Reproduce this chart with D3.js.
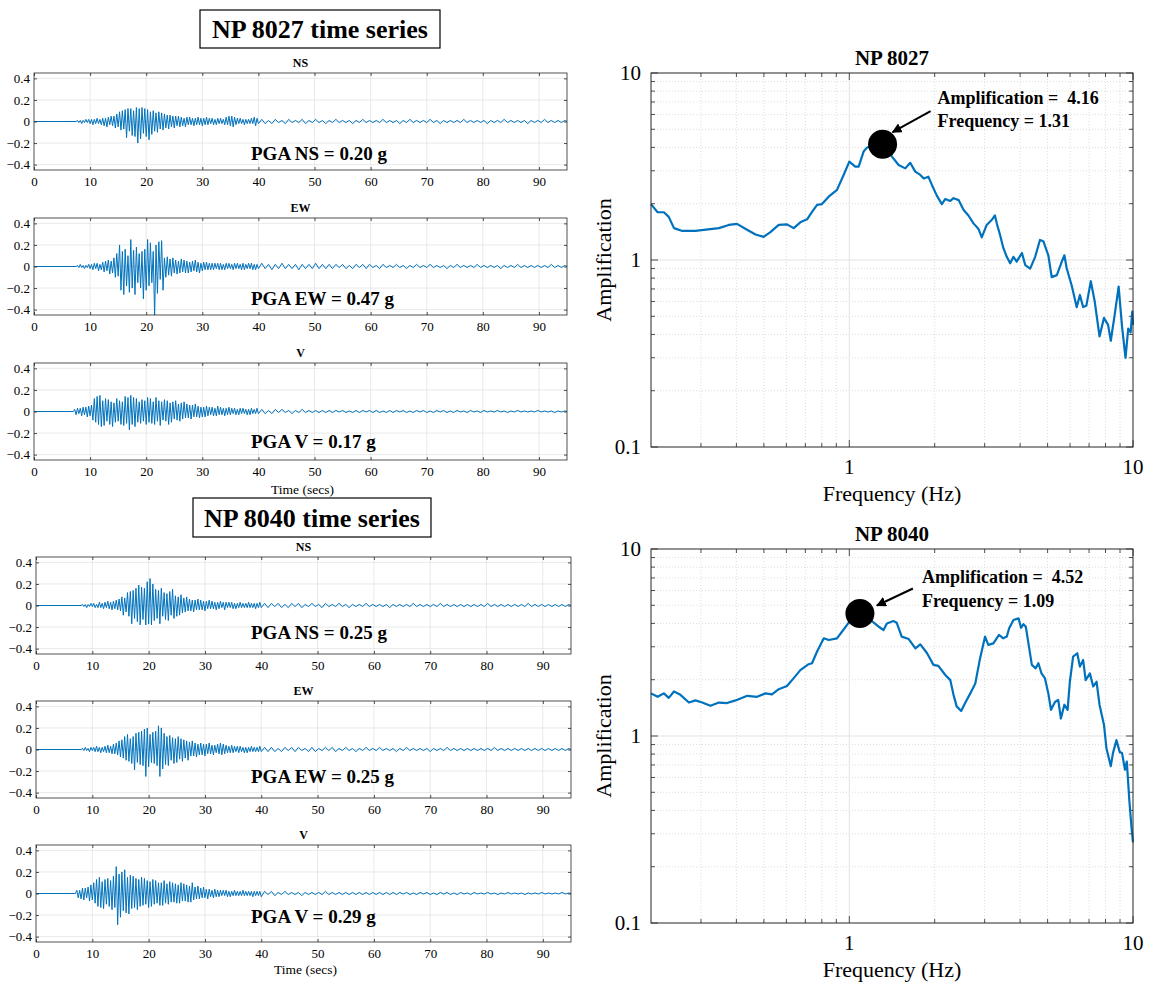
<!DOCTYPE html>
<html>
<head>
<meta charset="utf-8">
<script src="https://cdn.jsdelivr.net/npm/d3@7"></script>
<style>
  body { margin: 0; background: #fff; }
  svg { display: block; }
  text { font-family: "Liberation Serif", "Times New Roman", serif; fill: #000; }
</style>
</head>
<body>
<svg id="fig" width="1150" height="984"></svg>
<script>
// ---------------- data ----------------
const stationNames = ["NP 8027", "NP 8040"];
const components = ["NS", "EW", "V"];
const pgaValues = [[0.20, 0.47, 0.17], [0.25, 0.25, 0.29]];   // g
const onsetTimes = [[7.5, 7.5, 7.0], [8.0, 8.0, 7.0]];          // s
const strongStep = 0.25;  // s between successive peaks, strong-motion part
const codaStep = 0.6;     // s between successive peaks, coda part
const timeTicks = [0, 10, 20, 30, 40, 50, 60, 70, 80, 90];
const accTicks = [-0.4, -0.2, 0, 0.2, 0.4];

// accelerogram peaks, hundredths of g
const ns8027Strong = [1,-1,1,-2,1,-1,2,-1,2,-2, 2,-3,2,-2,3,-2,2,-3, 3,-4,3,-5,4,-3,5,-4,
  5,-6,7,-5, 9,-8,10,-7, 11,-15,12,-9, 12,-13,10,-14, 13,-20,12,-16, 13,-11,12,-14, 11,-17,9,-12,
  10,-9,8,-10, 9,-7,8,-8, 7,-6,6,-7, 6,-5,5,-6, 5,-4,5,-5, 4,-4,3,-5, 4,-3,4,-3, 3,-4,3,-3,
  4,-3,3,-4, 3,-3,4,-3, 3,-2,3,-3, 2,-3,3,-2, 3,-2,2,-3, 4,-3,5,-4, 5,-5,4,-3, 3,-2,3,-2,
  2,-3,2,-2, 2,-2,3,-2, 4,-4,3,-2];
const ns8027Coda = [2,-2,1,-2,2,-1,1,-2,2,-1,1,-1,2,-2,1,-1,2,-1,1,-2,
  1,-1,2,-1,1,-1,1,-2,1,-1,2,-1,1,-1,1,-1,2,-1,1,-1,
  1,-2,1,-1,2,-1,1,-1,1,-1,2,-1,1,-2,1,-1,1,-1,1,-1,
  2,-1,1,-1,1,-1,1,-2,1,-1,1,-1,2,-1,1,-1,1,-1,1,-2,
  1,-1,1,-1,2,-1,1,-1,1,-1,1,-1];

const ew8027Strong = [1,-1,2,-1,1,-2,1,-1,2,-2, 2,-3,3,-2,3,-4,2,-3, 4,-5,5,-4,6,-7,5,-6,
  8,-10,12,-9, 20,-22,14,-26, 16,-18,10,-24, 25,-20,15,-26, 18,-15,12,-20, 14,-30,16,-22,
  25,-18,22,-15, 14,-47,20,-25, 23,-12,24,-22, 8,-10,9,-8, 7,-9,8,-6, 6,-7,5,-6, 7,-5,6,-6,
  5,-6,4,-5, 5,-4,6,-5, 4,-6,3,-4, 4,-3,4,-3, 3,-3,3,-3, 3,-2,3,-3, 3,-3,2,-3, 3,-2,3,-2,
  2,-3,3,-2, 3,-2,2,-3, 3,-3,2,-2, 3,-2,3,-3, 2,-3,2,-2];
const ew8027Coda = [3,-2,2,-3,2,-2,3,-2,2,-2,2,-3,2,-2,2,-2,3,-2,2,-2,
  2,-2,2,-1,2,-2,1,-2,2,-1,2,-2,2,-1,1,-2,2,-1,1,-1,
  2,-1,1,-2,1,-1,2,-1,1,-1,2,-1,1,-1,1,-2,1,-1,2,-1,
  1,-1,1,-1,2,-1,1,-1,1,-1,1,-2,1,-1,1,-1,2,-1,1,-1,
  1,-1,1,-1,1,-1,2,-1,1,-1,1,-1];

const v8027Strong = [2,-3,3,-2, 3,-4,4,-3, 4,-5,5,-4, 6,-8,12,-10, 14,-12,15,-14, 10,-13,12,-9,
  11,-12,9,-14, 8,-10,12,-9, 10,-12,9,-13, 14,-11,13,-17, 15,-12,13,-14, 12,-10,9,-11,
  11,-9,10,-12, 13,-10,12,-11, 9,-12,13,-9, 10,-13,9,-8, 11,-9,10,-12, 8,-10,9,-7,
  10,-8,7,-9, 8,-7,9,-6, 7,-6,6,-7, 6,-5,7,-5, 5,-6,4,-5, 4,-5,5,-4, 4,-3,4,-4, 3,-4,5,-3,
  4,-3,3,-4, 3,-3,4,-3, 3,-2,3,-3, 2,-3,3,-2, 3,-2,2,-3, 2,-3,3,-2, 2,-2,3,-2];
const v8027Coda = [2,-2,1,-2,2,-1,2,-1,1,-2,1,-1,2,-1,1,-1,1,-1,1,-1,
  1,-1,1,-0.5,1,-1,0.5,-1,1,-1,1,-0.5,1,-1,1,-1,0.5,-1,1,-1,
  1,-0.5,1,-1,0.5,-1,1,-0.5,1,-1,0.5,-1,1,-0.5,1,-1,0.5,-1,1,-0.5,
  0.5,-1,1,-0.5,0.5,-1,1,-0.5,0.5,-0.5,1,-0.5,0.5,-1,0.5,-0.5,1,-0.5,0.5,-0.5,
  0.5,-0.5,1,-0.5,0.5,-0.5,0.5,-1,0.5,-0.5,0.5,-0.5];

const ns8040Strong = [1,-1,1,-2,1,-1,2,-1, 2,-2,1,-2,3,-2,2,-3, 3,-2,4,-3,3,-4,4,-3,
  5,-4,6,-5, 8,-9,7,-6, 12,-10,13,-17, 14,-12,16,-15, 19,-18,17,-13, 16,-18,22,-17,
  25,-18,20,-14, 15,-12,14,-17, 16,-10,12,-13, 11,-14,13,-9, 15,-12,9,-10, 8,-9,10,-7,
  7,-6,8,-5, 6,-5,5,-6, 5,-4,6,-4, 5,-4,4,-5, 4,-3,5,-3, 4,-3,3,-4, 3,-3,4,-2, 3,-4,3,-2,
  3,-2,3,-3, 2,-3,2,-2, 3,-2,2,-2, 2,-2,3,-2, 2,-2,2,-3, 2,-2,3,-2];
const ns8040Coda = [2,-2,2,-1,2,-2,1,-2,2,-1,2,-2,1,-1,2,-1,1,-2,2,-1,
  1,-1,2,-1,1,-2,1,-1,1,-1,2,-1,1,-1,1,-1,1,-2,1,-1,
  1,-1,1,-1,2,-1,1,-1,1,-1,1,-1,2,-1,1,-1,1,-1,1,-1,
  1,-1,1,-1,1,-1,2,-1,1,-1,1,-1,1,-1,1,-1,1,-1,2,-1,
  1,-1,1,-1,1,-1,1,-1,1,-1,1,-1];

const ew8040Strong = [1,-1,2,-1,1,-2,2,-1, 2,-2,3,-2,2,-3,2,-2, 3,-3,4,-3,3,-4,5,-4,
  6,-5,8,-7, 9,-8,12,-10, 14,-11,10,-13, 12,-19,15,-12, 16,-14,17,-15, 19,-25,20,-16,
  14,-12,16,-13, 17,-15,22,-25, 20,-18,15,-14, 12,-15,13,-10, 11,-13,10,-12, 12,-9,10,-11,
  9,-8,8,-10, 7,-6,8,-6, 6,-7,5,-5, 6,-5,5,-6, 5,-4,6,-4, 4,-5,4,-3, 5,-4,6,-5, 5,-4,4,-3,
  3,-3,4,-3, 3,-2,3,-3, 3,-2,2,-3, 2,-3,2,-2, 3,-2,2,-2, 2,-2,3,-2];
const ew8040Coda = [2,-2,2,-2,1,-2,2,-1,2,-2,2,-1,1,-2,2,-2,1,-1,2,-1,
  2,-2,1,-1,2,-1,1,-2,1,-1,2,-1,1,-1,2,-1,1,-1,1,-2,
  1,-1,2,-1,1,-1,1,-1,1,-2,1,-1,1,-1,2,-1,1,-1,1,-1,
  1,-1,1,-1,1,-1,1,-1,2,-1,1,-1,1,-1,1,-1,1,-1,1,-1,
  1,-1,1,-1,1,-1,1,-1,1,-1,1,-1];

const v8040Strong = [3,-4,3,-5, 5,-6,5,-4, 6,-7,8,-6, 10,-9,13,-12, 15,-13,11,-14, 13,-10,14,-12,
  12,-15,16,-13, 25,-29,18,-22, 20,-16,22,-18, 15,-19,17,-14, 16,-13,14,-15, 13,-12,15,-11,
  14,-10,12,-13, 11,-12,13,-10, 12,-9,10,-11, 10,-11,12,-9, 9,-10,11,-8, 10,-8,9,-9,
  8,-9,10,-7, 9,-7,8,-8, 7,-8,10,-6, 6,-5,7,-5, 5,-4,6,-4, 4,-5,4,-3, 3,-4,4,-3, 3,-3,3,-2,
  3,-2,3,-3, 2,-3,2,-2, 3,-2,2,-2, 2,-2,3,-2, 2,-2,2,-2, 2,-3,2,-2, 2,-2,2,-3];
const v8040Coda = [2,-1,2,-2,1,-1,2,-1,1,-1,1,-2,1,-1,1,-1,1,-1,2,-1,
  1,-1,1,-1,1,-1,1,-1,1,-1,1,-1,1,-1,1,-1,1,-1,1,-1,
  1,-0.5,1,-1,0.5,-1,1,-0.5,1,-1,0.5,-1,1,-0.5,1,-1,0.5,-1,1,-0.5,
  0.5,-1,1,-0.5,0.5,-0.5,1,-0.5,0.5,-1,0.5,-0.5,1,-0.5,0.5,-0.5,0.5,-1,0.5,-0.5,
  0.5,-0.5,1,-0.5,0.5,-0.5,0.5,-0.5,1,-0.5,0.5,-0.5];

const strongRecords = [[ns8027Strong, ew8027Strong, v8027Strong], [ns8040Strong, ew8040Strong, v8040Strong]];
const codaRecords = [[ns8027Coda, ew8027Coda, v8027Coda], [ns8040Coda, ew8040Coda, v8040Coda]];

// amplification spectra
const freq8027 = [0.2,0.211,0.222,0.231,0.241,0.258,0.287,0.307,0.347,0.376,0.402,0.43,0.467,0.499,0.527,
  0.564,0.603,0.637,0.672,0.71,0.739,0.77,0.801,0.846,0.905,0.955,1.0,1.05,1.079,1.123,1.154,1.22,1.31,1.37,
  1.414,1.492,1.575,1.64,1.708,1.78,1.83,1.9,1.955,2.035,2.12,2.178,2.27,2.33,2.43,2.53,2.63,2.74,2.85,2.93,
  3.05,3.18,3.26,3.31,3.4,3.49,3.59,3.69,3.79,3.89,4.06,4.17,4.34,4.52,4.7,4.83,5.03,5.17,5.39,5.61,5.73,
  5.84,6.08,6.33,6.5,6.67,6.85,7.1,7.33,7.62,7.9,8.17,8.35,8.62,8.9,9.15,9.41,9.62,9.81,9.94,10.0];
const amp8027 = [1.99,1.80,1.80,1.70,1.48,1.43,1.43,1.45,1.48,1.54,1.56,1.47,1.37,1.33,1.41,
  1.54,1.55,1.48,1.59,1.65,1.81,1.97,1.99,2.18,2.37,2.85,3.36,3.16,3.16,3.80,3.99,4.08,4.16,3.85,
  3.57,3.22,3.09,3.31,2.97,2.85,2.73,2.79,2.52,2.21,1.99,2.12,2.07,2.14,2.09,1.85,1.73,1.57,1.47,1.32,
  1.54,1.64,1.73,1.57,1.36,1.16,1.04,0.96,1.04,0.98,1.09,0.94,0.90,1.04,1.28,1.26,1.06,0.81,0.83,0.98,1.06,
  0.90,0.73,0.56,0.65,0.56,0.57,0.77,0.60,0.39,0.49,0.45,0.37,0.51,0.72,0.44,0.30,0.43,0.41,0.53,0.45];
const freq8040 = [0.2,0.211,0.222,0.231,0.241,0.254,0.272,0.287,0.303,0.324,0.347,0.371,0.397,0.437,0.473,
  0.506,0.534,0.564,0.603,0.637,0.672,0.719,0.739,0.77,0.813,0.846,0.905,0.942,1.0,1.09,1.18,1.27,1.32,1.357,
  1.43,1.47,1.53,1.62,1.71,1.78,1.88,1.98,2.06,2.18,2.27,2.33,2.39,2.48,2.56,2.67,2.78,2.89,3.01,3.09,3.22,
  3.37,3.49,3.59,3.66,3.79,3.95,4.03,4.11,4.19,4.28,4.4,4.54,4.64,4.76,4.89,5.03,5.14,5.31,5.45,5.57,5.73,
  5.88,5.99,6.15,6.36,6.5,6.67,6.81,7.05,7.24,7.44,7.62,7.9,8.06,8.35,8.5,8.74,8.98,9.15,9.37,9.51,9.71,9.87,10.0];
const amp8040 = [1.69,1.62,1.69,1.60,1.73,1.66,1.51,1.55,1.51,1.45,1.51,1.50,1.55,1.64,1.62,
  1.69,1.67,1.78,1.85,2.04,2.25,2.42,2.45,2.83,3.33,3.26,3.33,3.61,4.08,4.52,4.2,3.84,3.69,4.0,
  4.12,4.03,3.40,3.30,2.94,3.09,2.77,2.40,2.37,2.12,1.99,1.66,1.44,1.36,1.50,1.69,1.91,2.60,3.40,3.07,3.13,
  3.47,3.33,3.40,3.77,4.17,4.26,3.79,3.96,3.84,3.13,2.40,2.30,2.45,2.16,2.04,1.69,1.38,1.52,1.56,1.24,1.47,
  1.38,1.95,2.66,2.77,2.35,2.55,1.99,2.16,1.84,1.95,1.47,1.15,0.86,0.69,0.81,0.95,0.82,0.81,0.66,0.73,0.45,0.33,0.27];
const peakAmp = [4.16, 4.52];
const peakFreq = [1.31, 1.09];
const ampTicks = [0.1, 1, 10];
const freqTicks = [1, 10];

// ---------------- drawing ----------------
const svg = d3.select("#fig");
const BLUE = "#0072BD", AXIS = "#262626", GRID = "#e3e3e3", MINOR = "#d4d4d4";

svg.append("defs").append("marker")
  .attr("id", "head").attr("viewBox", "0 0 10 10").attr("refX", 9).attr("refY", 5)
  .attr("markerWidth", 5).attr("markerHeight", 5).attr("orient", "auto")
  .append("path").attr("d", "M0,0L10,5L0,10z").attr("fill", "#000");

// --- time-series panels ---
const tsBlocks = [
  { left: 34, right: 567, tops: [73, 218, 363], box: [200, 10, 240, 38], timeLabelY: 494 },
  { left: 36, right: 571, tops: [557, 701, 845], box: [193, 498, 238, 39], timeLabelY: 974 }
];
const tsHeight = 97;
const pgaOffset = [[38, 38, 36], [33, 33, 29]];

function buildTrace(onset, strong, coda) {
  const pts = [[0, 0], [onset, 0]];
  strong.forEach((v, i) => pts.push([onset + (i + 1) * strongStep, v / 100]));
  const tEnd = onset + strong.length * strongStep;
  coda.forEach((v, i) => pts.push([tEnd + (i + 1) * codaStep, v / 100]));
  const kept = pts.filter(p => p[0] <= 95);
  kept.push([95, 0]);
  return kept;
}

tsBlocks.forEach((b, s) => {
  // station header box
  const [bx, by, bw, bh] = b.box;
  svg.append("rect").attr("x", bx).attr("y", by).attr("width", bw).attr("height", bh)
    .attr("fill", "#fff").attr("stroke", "#000").attr("stroke-width", 1.2);
  svg.append("text").attr("x", bx + bw / 2).attr("y", by + bh / 2 + 9)
    .attr("text-anchor", "middle").attr("font-size", 26).attr("font-weight", "bold")
    .text(stationNames[s] + " time series");

  components.forEach((comp, c) => {
    const top = b.tops[c];
    const x = d3.scaleLinear().domain([0, 95]).range([b.left, b.right]);
    const y = d3.scaleLinear().domain([-0.45, 0.45]).range([top + tsHeight, top]);
    const g = svg.append("g");
    const clipId = `clip-${s}-${c}`;
    g.append("clipPath").attr("id", clipId).append("rect")
      .attr("x", b.left).attr("y", top).attr("width", b.right - b.left).attr("height", tsHeight);

    g.selectAll(".vg").data(timeTicks.slice(1)).join("line")
      .attr("x1", d => x(d)).attr("x2", d => x(d)).attr("y1", top).attr("y2", top + tsHeight)
      .attr("stroke", GRID).attr("stroke-width", 0.8);
    g.selectAll(".hg").data(accTicks).join("line")
      .attr("x1", b.left).attr("x2", b.right).attr("y1", d => y(d)).attr("y2", d => y(d))
      .attr("stroke", GRID).attr("stroke-width", 0.8);

    const trace = buildTrace(onsetTimes[s][c], strongRecords[s][c], codaRecords[s][c]);
    g.append("path").datum(trace).attr("clip-path", `url(#${clipId})`)
      .attr("fill", "none").attr("stroke", BLUE).attr("stroke-width", 1.0)
      .attr("stroke-linejoin", "round")
      .attr("d", d3.line().x(d => x(d[0])).y(d => y(d[1])));

    // axes with inward ticks
    const ax = g.append("g").attr("transform", `translate(0,${top + tsHeight})`)
      .call(d3.axisBottom(x).tickValues(timeTicks).tickSize(-3).tickPadding(7).tickFormat(d3.format("d")));
    g.append("g").attr("transform", `translate(0,${top})`)
      .call(d3.axisTop(x).tickValues(timeTicks).tickSize(-3).tickFormat(""));
    g.append("g").attr("transform", `translate(${b.left},0)`)
      .call(d3.axisLeft(y).tickValues(accTicks).tickSize(-3).tickPadding(4)
        .tickFormat(d => d === 0 ? "0" : d3.format(".1f")(d)));
    g.append("g").attr("transform", `translate(${b.right},0)`)
      .call(d3.axisRight(y).tickValues(accTicks).tickSize(-3).tickFormat(""));
    g.selectAll(".domain").remove();
    g.selectAll(".tick line").attr("stroke", AXIS).attr("stroke-width", 0.8);
    g.selectAll(".tick text").attr("font-family", "Liberation Serif, serif")
      .attr("font-size", 13).attr("fill", AXIS);
    ax.selectAll(".tick text").attr("dy", "0.71em");

    g.append("rect").attr("x", b.left).attr("y", top).attr("width", b.right - b.left).attr("height", tsHeight)
      .attr("fill", "none").attr("stroke", AXIS).attr("stroke-width", 0.8);

    g.append("text").attr("x", (b.left + b.right) / 2).attr("y", top - 6)
      .attr("text-anchor", "middle").attr("font-size", 12).attr("font-weight", "bold").text(comp);

    g.append("text").attr("x", 251).attr("y", y(0) + pgaOffset[s][c])
      .attr("font-size", 19).attr("font-weight", "bold")
      .text(`PGA ${comp} = ${pgaValues[s][c].toFixed(2)} g`);
  });

  svg.append("text").attr("x", (b.left + b.right) / 2 + 2).attr("y", b.timeLabelY)
    .attr("text-anchor", "middle").attr("font-size", 13.5).attr("fill", AXIS).text("Time (secs)");
});

// --- amplification panels ---
const specBlocks = [
  { top: 73, freqs: freq8027, amps: amp8027, arrow: [[48, -33], [10, -12]], label: [55, -40, -17] },
  { top: 549, freqs: freq8040, amps: amp8040, arrow: [[53, -25], [17, -8]], label: [62, -30, -6] }
];
const specLeft = 651, specRight = 1133, specHeight = 374;
const minorFreq = [0.3,0.4,0.5,0.6,0.7,0.8,0.9,2,3,4,5,6,7,8,9];
const minorAmp = [0.2,0.3,0.4,0.5,0.6,0.7,0.8,0.9,2,3,4,5,6,7,8,9];

specBlocks.forEach((b, s) => {
  const x = d3.scaleLog().domain([0.2, 10]).range([specLeft, specRight]);
  const y = d3.scaleLog().domain([0.1, 10]).range([b.top + specHeight, b.top]);
  const g = svg.append("g");
  const bottom = b.top + specHeight;

  // minor dotted grid
  g.selectAll(".mx").data(minorFreq).join("line")
    .attr("x1", d => x(d)).attr("x2", d => x(d)).attr("y1", b.top).attr("y2", bottom)
    .attr("stroke", MINOR).attr("stroke-width", 0.8).attr("stroke-dasharray", "1,2");
  g.selectAll(".my").data(minorAmp).join("line")
    .attr("x1", specLeft).attr("x2", specRight).attr("y1", d => y(d)).attr("y2", d => y(d))
    .attr("stroke", MINOR).attr("stroke-width", 0.8).attr("stroke-dasharray", "1,2");
  // major grid
  g.append("line").attr("x1", x(1)).attr("x2", x(1)).attr("y1", b.top).attr("y2", bottom)
    .attr("stroke", GRID).attr("stroke-width", 1);
  g.append("line").attr("x1", specLeft).attr("x2", specRight).attr("y1", y(1)).attr("y2", y(1))
    .attr("stroke", GRID).attr("stroke-width", 1);

  // ticks (inward, all four sides)
  const tk = g.append("g").attr("stroke", AXIS).attr("stroke-width", 0.8);
  minorFreq.concat(freqTicks).forEach(f => {
    const len = freqTicks.includes(f) ? 7 : 4;
    tk.append("line").attr("x1", x(f)).attr("x2", x(f)).attr("y1", bottom).attr("y2", bottom - len);
    tk.append("line").attr("x1", x(f)).attr("x2", x(f)).attr("y1", b.top).attr("y2", b.top + len);
  });
  minorAmp.concat(ampTicks).forEach(a => {
    const len = ampTicks.includes(a) ? 7 : 4;
    tk.append("line").attr("x1", specLeft).attr("x2", specLeft + len).attr("y1", y(a)).attr("y2", y(a));
    tk.append("line").attr("x1", specRight).attr("x2", specRight - len).attr("y1", y(a)).attr("y2", y(a));
  });

  // curve
  const pts = b.freqs.map((f, i) => [f, b.amps[i]]);
  g.append("path").datum(pts).attr("fill", "none").attr("stroke", BLUE).attr("stroke-width", 2.2)
    .attr("stroke-linejoin", "round")
    .attr("d", d3.line().x(d => x(d[0])).y(d => y(d[1])));

  g.append("rect").attr("x", specLeft).attr("y", b.top).attr("width", specRight - specLeft).attr("height", specHeight)
    .attr("fill", "none").attr("stroke", AXIS).attr("stroke-width", 1);

  // tick labels
  g.selectAll(".yl").data(ampTicks).join("text")
    .attr("x", specLeft - 10).attr("y", d => y(d) + 7).attr("text-anchor", "end")
    .attr("font-size", 21).attr("fill", AXIS).text(d => d3.format("~g")(d));
  g.selectAll(".xl").data(freqTicks).join("text")
    .attr("x", d => x(d)).attr("y", bottom + 27).attr("text-anchor", "middle")
    .attr("font-size", 21).attr("fill", AXIS).text(d => d3.format("~g")(d));

  g.append("text").attr("x", (specLeft + specRight) / 2).attr("y", b.top - 8)
    .attr("text-anchor", "middle").attr("font-size", 21).attr("font-weight", "bold").text(stationNames[s]);
  g.append("text").attr("x", (specLeft + specRight) / 2).attr("y", bottom + 54)
    .attr("text-anchor", "middle").attr("font-size", 22).attr("fill", AXIS).text("Frequency (Hz)");
  g.append("text").attr("transform", `translate(611,${(b.top + bottom) / 2}) rotate(-90)`)
    .attr("text-anchor", "middle").attr("font-size", 22).attr("fill", AXIS).text("Amplification");

  // peak marker and annotation
  const cx = x(peakFreq[s]), cy = y(peakAmp[s]);
  g.append("circle").attr("cx", cx).attr("cy", cy).attr("r", 14.5).attr("fill", "#000");
  const [[tx, ty], [hx, hy]] = b.arrow;
  g.append("line").attr("x1", cx + tx).attr("y1", cy + ty).attr("x2", cx + hx).attr("y2", cy + hy)
    .attr("stroke", "#000").attr("stroke-width", 2).attr("marker-end", "url(#head)");
  const [lx, l1, l2] = b.label;
  g.append("text").attr("x", cx + lx).attr("y", cy + l1).style("white-space", "pre")
    .attr("font-size", 18).attr("font-weight", "bold").text(`Amplification =  ${peakAmp[s].toFixed(2)}`);
  g.append("text").attr("x", cx + lx).attr("y", cy + l2)
    .attr("font-size", 18).attr("font-weight", "bold").text(`Frequency = ${peakFreq[s].toFixed(2)}`);
});
</script>
</body>
</html>
